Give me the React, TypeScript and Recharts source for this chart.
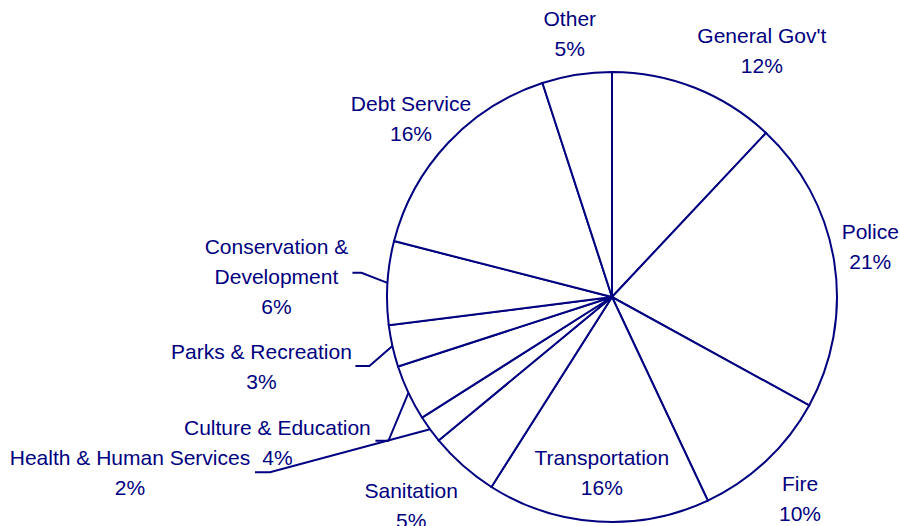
import React from 'react'
import { PieChart, Pie, Cell } from 'recharts'

const categories = [
  "General Gov't",
  'Police',
  'Fire',
  'Transportation',
  'Sanitation',
  'Health & Human Services',
  'Culture & Education',
  'Parks & Recreation',
  'Conservation & Development',
  'Debt Service',
  'Other',
]
const shares = [12, 21, 10, 16, 5, 2, 4, 3, 6, 16, 5]
const labelLines = [
  ["General Gov't"],
  ['Police'],
  ['Fire'],
  ['Transportation'],
  ['Sanitation'],
  ['Health & Human Services'],
  ['Culture & Education'],
  ['Parks & Recreation'],
  ['Conservation &', 'Development'],
  ['Debt Service'],
  ['Other'],
]

// label block offset from the arc point at the slice's mid angle,
// plus optional leader line (elbow offset and horizontal tail)
const labelLayout: Array<{ dx: number; dy: number; leader?: [number, number, number] }> = [
  { dx: 67, dy: -38 },
  { dx: 36, dy: -16 },
  { dx: 34, dy: 37 },
  { dx: 4, dy: -50 },
  { dx: -52, dy: 39 },
  { dx: -300, dy: 43, leader: [-160, 43, -15] },
  { dx: -131, dy: 49, leader: [-20, 48, -13] },
  { dx: -131, dy: 20, leader: [-23, 20, -14] },
  { dx: -111, dy: -7, leader: [-26, -10, -9] },
  { dx: -37, dy: -25 },
  { dx: -7, dy: -42 },
]

const NAVY = '#000080'
const RAD = Math.PI / 180
const LINE_H = 30

const data = categories.map((name, i) => ({ name, value: shares[i] }))

function renderLabel(props: any) {
  const { cx, cy, midAngle, outerRadius, index, percent } = props
  const ax = cx + outerRadius * Math.cos(-midAngle * RAD)
  const ay = cy + outerRadius * Math.sin(-midAngle * RAD)
  const layout = labelLayout[index]
  const lines = [...labelLines[index], `${Math.round(percent * 100)}%`]
  const bx = ax + layout.dx
  const by = ay + layout.dy
  const firstY = by - ((lines.length - 1) * LINE_H) / 2
  let leader = null
  if (layout.leader) {
    const [ex, ey, tail] = layout.leader
    const px = ax + ex
    const py = ay + ey
    leader = (
      <polyline
        points={`${ax},${ay} ${px},${py} ${px + tail},${py}`}
        fill="none"
        stroke={NAVY}
        strokeWidth={2}
      />
    )
  }
  return (
    <g key={`lbl-${index}`}>
      {leader}
      <text
        x={bx}
        y={firstY}
        fill={NAVY}
        textAnchor="middle"
        dominantBaseline="central"
        fontSize={21}
        fontFamily="'Liberation Sans', Arial, sans-serif"
      >
        {lines.map((t, i) => (
          <tspan key={i} x={bx} y={firstY + i * LINE_H}>
            {t}
          </tspan>
        ))}
      </text>
    </g>
  )
}

export default function App() {
  return (
    <div style={{ position: 'absolute', left: 0, top: 0, width: 900, height: 526, background: '#fff' }}>
      <PieChart width={900} height={526} margin={{ top: 0, right: 0, bottom: 0, left: 0 }}>
        <Pie
          data={data}
          dataKey="value"
          nameKey="name"
          cx={612}
          cy={297}
          outerRadius={225}
          startAngle={90}
          endAngle={-270}
          paddingAngle={0}
          label={renderLabel}
          labelLine={false}
          isAnimationActive={false}
          stroke={NAVY}
          strokeWidth={2}
        >
          {data.map((d) => (
            <Cell key={d.name} fill="#ffffff" stroke={NAVY} strokeWidth={2} />
          ))}
        </Pie>
      </PieChart>
    </div>
  )
}
